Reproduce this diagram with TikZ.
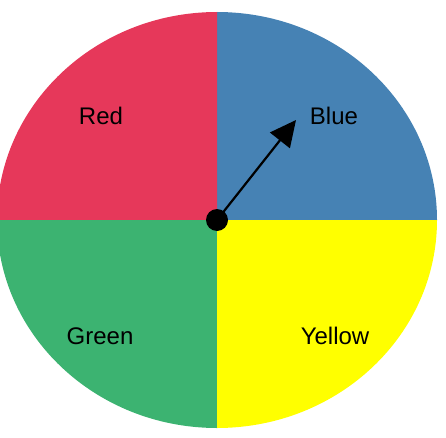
\documentclass[tikz,border=0pt]{standalone}
\usepackage{fontspec}
\setmainfont{Liberation Sans}
\definecolor{spinred}{HTML}{E6385A}
\definecolor{spinblue}{HTML}{4682B4}
\definecolor{spingreen}{HTML}{3CB371}
\definecolor{spinyellow}{HTML}{FFFF00}
\usetikzlibrary{arrows.meta}

\begin{document}
\begin{tikzpicture}[x=1pt, y=1pt]
    \useasboundingbox (0,0) rectangle (446,437);
    \clip (0,0) rectangle (446,437);
    \coordinate (mid) at (217,217);
    \foreach \start/\col in {%
      0/spinblue,
      90/spinred,
      180/spingreen,
      270/spinyellow}{%
      \fill[\col] (mid) -- ++(\start:220 and 208)
        arc[start angle=\start, delta angle=90, x radius=220, y radius=208] -- cycle;
    }
    \foreach \pos/\lab/\name in {%
      {(101,321)}/{Red}/lblred,
      {(334,321)}/{Blue}/lblblue,
      {(100,101)}/{Green}/lblgreen,
      {(335,101)}/{Yellow}/lblyellow}{%
      \node[font=\fontsize{24}{28}\selectfont] (\name) at \pos {\lab};
    }
    \coordinate (tip) at (296,317);
    \node[circle, fill=black, inner sep=0, minimum size=22] (hub) at (mid) {};
    \draw[-{Triangle[length=26, width=25]}, line width=2.2] (hub.center) -- (tip);
  \end{tikzpicture}
\end{document}
